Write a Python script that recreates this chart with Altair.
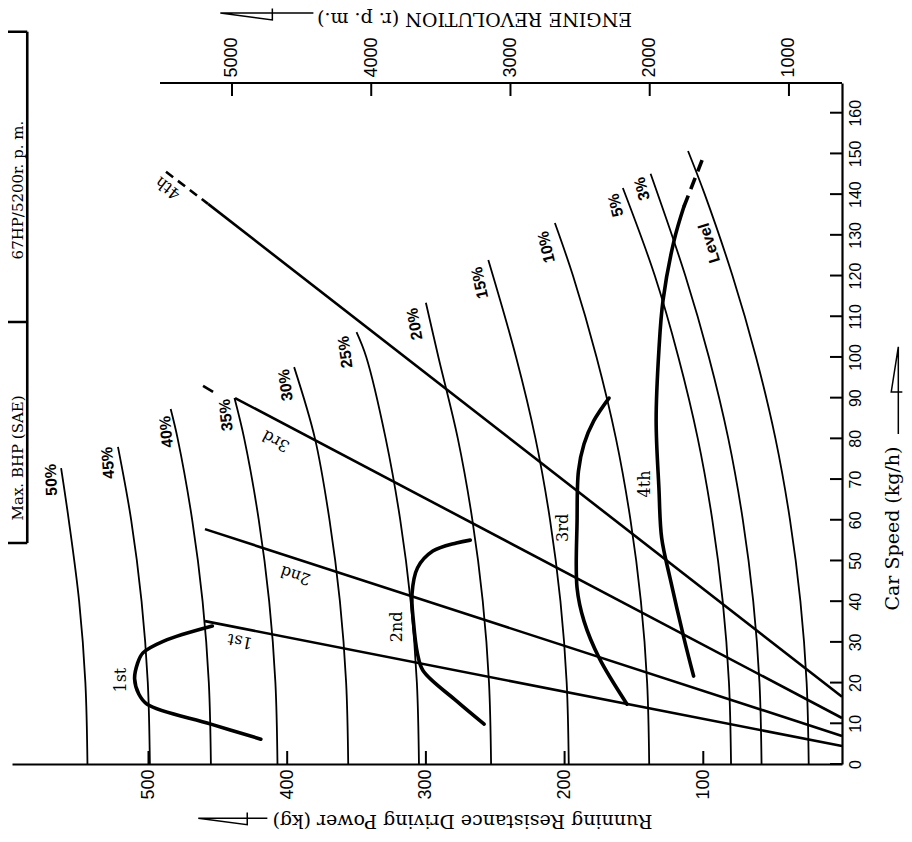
import altair as alt
import pandas as pd

# ---------------- frame / scales ----------------
W, H = 830, 681
KG_DOMAIN = [598.4, 0]        # running resistance (kg), increasing to the left
RPM_DOMAIN = [6580, 619]      # engine revolution (r.p.m.), top axis
SPEED_DOMAIN = [0, 167.3]     # car speed (km/h), right axis

kg_ticks = [100, 200, 300, 400, 500]
speed_ticks = [0, 10, 20, 30, 40, 50, 60, 70, 80, 90, 100, 110, 120, 130, 140, 150, 160]
rpm_ticks = [1000, 2000, 3000, 4000, 5000]

# ---------------- grade resistance curves (speed km/h, resistance kg) ----------------
grade_names = ["50%", "45%", "40%", "35%", "30%", "25%", "20%", "15%", "10%", "5%", "3%", "Level"]
g50_speed = [0, 20, 40, 60, 72.7]
g50_kg = [544, 545.5, 550, 557.5, 563]
g45_speed = [0, 20, 40, 60, 77.9]
g45_kg = [499, 500.5, 505, 512.5, 522]
g40_speed = [0, 20, 40, 60, 80, 87.2]
g40_kg = [455, 456.5, 461, 468.5, 479, 484]
g35_speed = [0, 20, 40, 60, 80, 89.9]
g35_kg = [407, 408.5, 413, 420.5, 431, 438]
g30_speed = [0, 20, 40, 60, 80, 97.5]
g30_kg = [356, 357.5, 362, 369.5, 380, 395]
g25_speed = [0, 20, 40, 60, 80, 100, 106.1]
g25_kg = [305, 306.5, 311, 318.5, 329, 343, 350]
g20_speed = [0, 20, 40, 60, 80, 100, 113.3]
g20_kg = [253, 254.5, 259, 266.5, 277, 291, 300]
g15_speed = [0, 20, 40, 60, 80, 100, 123.8]
g15_kg = [197, 198.5, 203, 210.5, 221, 235, 255]
g10_speed = [0, 20, 40, 60, 80, 100, 120, 132.9]
g10_kg = [139, 140.5, 145, 152.5, 163, 177, 194, 207]
g5_speed = [0, 20, 40, 60, 80, 100, 120, 141.5]
g5_kg = [80, 81.5, 86, 93.5, 104, 118, 135, 158]
g3_speed = [0, 20, 40, 60, 80, 100, 120, 145]
g3_kg = [58, 59.5, 64, 71.5, 82, 96, 113, 138]
glev_speed = [0, 20, 40, 60, 80, 100, 120, 140, 150.6]
glev_kg = [24, 25.5, 30, 37.5, 48, 62, 79, 99, 111]

# ---------------- driving power curves per gear ----------------
f1_speed = [6.1, 9.8, 14.7, 17.2, 20.9, 24.6, 27.3, 30.2, 33.9]
f1_kg = [419, 455, 501, 507, 510, 508, 504, 489, 454]
f2_speed = [9.8, 15.5, 22.9, 27.0, 35.1, 41.8, 48.2, 52.3, 54.3, 55.0]
f2_kg = [258, 278, 302, 306, 309, 310, 306, 295, 278, 268]
f3_speed = [14.7, 26.0, 35.1, 43.2, 59.7, 72.0, 78.6, 84.3, 89.9]
f3_kg = [155, 175, 186, 191, 191, 190, 186, 179, 168]
f4_speed = [21.6, 31.0, 45.7, 55.5, 67.8, 84.3, 101.7, 114.0, 128.7, 136.9]
f4_kg = [107, 114, 124, 130, 132, 134, 132, 129, 121, 114]
f4_ext_speed = [136.9, 149.1]
f4_ext_kg = [114, 100]

# ---------------- gear lines (engine rpm vs speed) ----------------
gear_names = ["1st", "2nd", "3rd", "4th"]
gear_rpm_low = [619, 619, 619, 619]
gear_speed_low = [4.4, 6.9, 11.3, 16.5]
gear_rpm_high = [5194, 5194, 4978, 5172]
gear_speed_high = [35.1, 57.7, 89.9, 137.6]
g4_ext_rpm = [5474, 5172]
g4_ext_speed = [145.5, 137.6]
g3_ext_rpm = [5208, 5136]
g3_ext_speed = [92.9, 91.4]
rpm_axis_from = [5517]
rpm_axis_to = [619]

# ---------------- labels ----------------
grade_label_kg = [570, 529, 487, 444, 401, 358, 308, 261, 213, 163, 144, 95.6]
grade_label_speed = [69.8, 74.0, 81.6, 85.7, 93.1, 101.2, 108.1, 118.2, 127.0, 137.3, 141.3, 128.0]
grade_label_angle = [268, 266, 265, 264, 263, 262, 260, 258, 257, 256, 255, 253]

gear_label_kg = [434, 394, 408, 486]
gear_label_speed = [30.2, 46.4, 79.4, 141.5]
gear_label_angle = [191, 198, 208, 218]

force_label_kg = [520, 320.5, 201, 142]
force_label_speed = [20.6, 33.7, 58.0, 68.8]

box_texts = ["67HP/5200r. p. m.", "Max. BHP (SAE)"]
box_text_kg = [594.2, 594.2]
box_text_speed = [141.0, 75.2]
box_kg = [587.4, 587.4, 587.4, 587.4]
box_kg2 = [587.4, 630, 630, 630]
box_speed = [54.3, 179.9, 108.6, 54.3]
box_speed2 = [179.9, 179.9, 108.6, 54.3]

# arrows next to the axis titles (drawn in kg / speed units)
arrow_bottom_kg = [414.3, 464.1, 428.8, 428.8]
arrow_bottom_speed = [-13.3, -13.3, -14.9, -11.9]
arrow_top_kg = [381.1, 448.2, 410.7, 410.7]
arrow_top_speed = [184.5, 184.5, 182.8, 185.6]
arrow_right_kg = [-40.6, -40.6, -35.5, -43.5]
arrow_right_speed = [81.1, 102.5, 91.4, 91.4]

# ---------------- tables ----------------
grade_series = [
    (g50_speed, g50_kg), (g45_speed, g45_kg), (g40_speed, g40_kg), (g35_speed, g35_kg),
    (g30_speed, g30_kg), (g25_speed, g25_kg), (g20_speed, g20_kg), (g15_speed, g15_kg),
    (g10_speed, g10_kg), (g5_speed, g5_kg), (g3_speed, g3_kg), (glev_speed, glev_kg),
]
rows = []
for name, (sp, kg) in zip(grade_names, grade_series):
    for i, (s, k) in enumerate(zip(sp, kg)):
        rows.append({"curve": name, "i": i, "speed": s, "kg": k})
grade_df = pd.DataFrame(rows)

rows = []
for name, (sp, kg) in zip(gear_names, [(f1_speed, f1_kg), (f2_speed, f2_kg), (f3_speed, f3_kg), (f4_speed, f4_kg)]):
    for i, (s, k) in enumerate(zip(sp, kg)):
        rows.append({"gear": name, "i": i, "speed": s, "kg": k})
force_df = pd.DataFrame(rows)
force_ext_df = pd.DataFrame({"i": [0, 1], "speed": f4_ext_speed, "kg": f4_ext_kg})

rows = []
for n, r0, s0, r1, s1 in zip(gear_names, gear_rpm_low, gear_speed_low, gear_rpm_high, gear_speed_high):
    rows.append({"gear": n, "i": 0, "rpm": r0, "speed": s0})
    rows.append({"gear": n, "i": 1, "rpm": r1, "speed": s1})
gear_df = pd.DataFrame(rows)
g4_ext_df = pd.DataFrame({"i": [0, 1], "rpm": g4_ext_rpm, "speed": g4_ext_speed})
g3_ext_df = pd.DataFrame({"i": [0, 1], "rpm": g3_ext_rpm, "speed": g3_ext_speed})
rpm_axis_df = pd.DataFrame({"r0": rpm_axis_from, "r1": rpm_axis_to})

grade_label_df = pd.DataFrame({"t": grade_names, "kg": grade_label_kg,
                               "speed": grade_label_speed, "a": grade_label_angle})
gear_label_df = pd.DataFrame({"t": gear_names, "kg": gear_label_kg,
                              "speed": gear_label_speed, "a": gear_label_angle})
force_label_df = pd.DataFrame({"t": gear_names, "kg": force_label_kg, "speed": force_label_speed})
box_df = pd.DataFrame({"kg": box_kg, "kg2": box_kg2, "speed": box_speed, "speed2": box_speed2})
box_text_df = pd.DataFrame({"t": box_texts, "kg": box_text_kg, "speed": box_text_speed})

rows = []
for name, (kgs, sps) in {"b": (arrow_bottom_kg, arrow_bottom_speed),
                         "t": (arrow_top_kg, arrow_top_speed),
                         "r": (arrow_right_kg, arrow_right_speed)}.items():
    for i, (k, s) in enumerate(zip(kgs, sps)):
        rows.append({"arrow": name, "i": i, "kg": k, "speed": s})
arrow_df = pd.DataFrame(rows)

kg_tick_df = pd.DataFrame({"kg": kg_ticks})
speed_tick_df = pd.DataFrame({"speed": speed_ticks})
rpm_tick_df = pd.DataFrame({"rpm": rpm_ticks})

# ---------------- encodings ----------------
kg_scale = alt.Scale(domain=KG_DOMAIN, nice=False, zero=False)
rpm_scale = alt.Scale(domain=RPM_DOMAIN, nice=False, zero=False)
sp_scale = alt.Scale(domain=SPEED_DOMAIN, nice=False, zero=False)

SERIF = "DejaVu Serif"
SANS = "Liberation Sans"

kg_axis = alt.Axis(
    orient="bottom", values=kg_ticks, format="d", grid=False,
    ticks=False, tickSize=0, domain=True, domainColor="black", domainWidth=2.2,
    labelAngle=270, labelAlign="right", labelBaseline="middle", labelPadding=5,
    labelFont=SANS, labelFontSize=18, labelColor="black", labelOverlap=False, labelFlush=False,
    title="Running Resistance Driving Power (kg)", titleAngle=180, titleX=450, titleY=56,
    titleAlign="center", titleBaseline="middle", titleFont=SERIF, titleFontSize=19,
    titleFontWeight="normal", titleColor="black",
)
sp_axis = alt.Axis(
    orient="right", values=speed_ticks, format="d", grid=False,
    ticks=False, tickSize=0, domain=True, domainColor="black", domainWidth=2.2,
    labelAngle=270, labelAlign="center", labelBaseline="top", labelPadding=5,
    labelFont=SANS, labelFontSize=16, labelColor="black", labelOverlap=False, labelFlush=False,
    title="Car Speed (kg/h)", titleAngle=270, titleX=50, titleY=445,
    titleAlign="center", titleBaseline="middle", titleFont=SERIF, titleFontSize=19,
    titleFontWeight="normal", titleColor="black",
)
rpm_axis = alt.Axis(
    orient="top", values=rpm_ticks, format="d", grid=False,
    ticks=False, tickSize=0, domain=False,
    labelAngle=270, labelAlign="left", labelBaseline="middle", labelPadding=6,
    labelFont=SANS, labelFontSize=18, labelColor="black", labelOverlap=False, labelFlush=False,
    title="ENGINE REVOLUTION (r. p. m.)", titleAngle=180, titleX=462, titleY=-65,
    titleAlign="center", titleBaseline="middle", titleFont=SERIF, titleFontSize=19,
    titleFontWeight="normal", titleColor="black",
)

X = lambda axis=None: alt.X("kg:Q", scale=kg_scale, axis=axis)
Y = lambda axis=None: alt.Y("speed:Q", scale=sp_scale, axis=axis)
XR = lambda axis=None: alt.X("rpm:Q", scale=rpm_scale, axis=axis)

grade_lines = alt.Chart(grade_df).mark_line(
    color="black", strokeWidth=1.8, interpolate="catmull-rom"
).encode(x=X(kg_axis), y=Y(sp_axis), detail="curve:N", order="i:Q")

force_lines = alt.Chart(force_df).mark_line(
    color="black", strokeWidth=3.6, interpolate="catmull-rom", strokeCap="round"
).encode(x=X(), y=Y(), detail="gear:N", order="i:Q")

force_ext = alt.Chart(force_ext_df).mark_line(
    color="black", strokeWidth=3.6, strokeDash=[12, 7]
).encode(x=X(), y=Y(), order="i:Q")

kg_tick_rules = alt.Chart(kg_tick_df).mark_rule(color="black", strokeWidth=2).encode(
    x=X(), y=alt.value(H), y2=alt.value(H - 13))
sp_tick_rules = alt.Chart(speed_tick_df).mark_rule(color="black", strokeWidth=2).encode(
    y=Y(), x=alt.value(W), x2=alt.value(W - 12))

grade_text = alt.Chart(grade_label_df).mark_text(
    font=SANS, fontSize=16, fontWeight="bold", color="black", align="center", baseline="middle"
).encode(x=X(), y=Y(), text="t:N", angle=alt.Angle("a:Q", scale=None))

gear_text = alt.Chart(gear_label_df).mark_text(
    font=SERIF, fontSize=16, color="black", align="center", baseline="middle"
).encode(x=X(), y=Y(), text="t:N", angle=alt.Angle("a:Q", scale=None))

force_text = alt.Chart(force_label_df).mark_text(
    font=SERIF, fontSize=16, color="black", align="center", baseline="middle", angle=270
).encode(x=X(), y=Y(), text="t:N")

box_rules = alt.Chart(box_df).mark_rule(color="black", strokeWidth=2.6).encode(
    x=X(), x2="kg2:Q", y=Y(), y2="speed2:Q")

box_text = alt.Chart(box_text_df).mark_text(
    font=SERIF, fontSize=15, color="black", align="center", baseline="middle", angle=270
).encode(x=X(), y=Y(), text="t:N")

arrows = alt.Chart(arrow_df).mark_line(color="black", strokeWidth=1.5).encode(
    x=X(), y=Y(), detail="arrow:N", order="i:Q")

gear_lines = alt.Chart(gear_df).mark_line(color="black", strokeWidth=2.6).encode(
    x=XR(rpm_axis), y=Y(), detail="gear:N", order="i:Q")
g4_ext = alt.Chart(g4_ext_df).mark_line(color="black", strokeWidth=2.6, strokeDash=[9, 6]).encode(
    x=XR(), y=Y(), order="i:Q")
g3_ext = alt.Chart(g3_ext_df).mark_line(color="black", strokeWidth=2.6).encode(
    x=XR(), y=Y(), order="i:Q")
rpm_tick_rules = alt.Chart(rpm_tick_df).mark_rule(color="black", strokeWidth=2).encode(
    x=XR(), y=alt.value(0), y2=alt.value(13))
rpm_domain = alt.Chart(rpm_axis_df).mark_rule(color="black", strokeWidth=2.2).encode(
    x=alt.X("r0:Q", scale=rpm_scale, axis=None), x2="r1:Q", y=alt.value(0))

chart = alt.layer(
    grade_lines, gear_lines, force_lines, force_ext, g4_ext, g3_ext,
    kg_tick_rules, sp_tick_rules, rpm_tick_rules, rpm_domain,
    grade_text, gear_text, force_text, box_rules, box_text, arrows,
).resolve_scale(x="independent", y="independent").properties(
    width=W, height=H,
    autosize=alt.AutoSizeParams(type="none"),
    padding={"left": 4, "top": 75, "right": 62, "bottom": 70},
    background="white",
).configure_view(stroke=None)

chart.save("out.html", embed_options={"renderer": "svg", "actions": False})
